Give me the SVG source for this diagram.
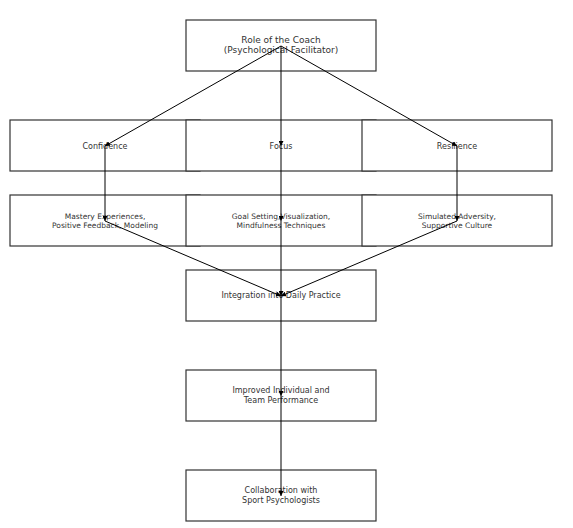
<svg xmlns="http://www.w3.org/2000/svg" width="573" height="528" viewBox="0 0 573 528">
<style>
.box{fill:#fff;stroke:#333;stroke-width:1.2}
text{font-family:"DejaVu Sans",sans-serif;fill:#333;text-anchor:middle}
.t1{font-size:9px}
.t2{font-size:8px}
.t3{font-size:7.5px}
.edge{stroke:#000;stroke-width:1;fill:none;marker-end:url(#ah)}
</style>
<defs>
<marker id="ah" viewBox="0 0 10 10" refX="10" refY="5" markerWidth="5" markerHeight="5" orient="auto"><path d="M0,0L10,5L0,10z" fill="#000"/></marker>
</defs>
<rect width="573" height="528" fill="#fff"/>
<g id="coach"><rect class="box" x="186" y="20" width="190" height="51"/><text class="t1" x="281" y="43">Role of the Coach</text><text class="t1" x="281" y="53">(Psychological Facilitator)</text></g>
<g id="confidence"><rect class="box" x="10" y="120" width="190" height="51"/><text class="t2" x="105" y="149">Confidence</text></g>
<g id="focus"><rect class="box" x="186" y="120" width="190" height="51"/><text class="t2" x="281" y="149">Focus</text></g>
<g id="resilience"><rect class="box" x="362" y="120" width="190" height="51"/><text class="t2" x="457" y="149">Resilience</text></g>
<g id="mastery"><rect class="box" x="10" y="195" width="190" height="51"/><text class="t3" x="105" y="219">Mastery Experiences,</text><text class="t3" x="105" y="227.5">Positive Feedback, Modeling</text></g>
<g id="goal"><rect class="box" x="186" y="195" width="190" height="51"/><text class="t3" x="281" y="219">Goal Setting,Visualization,</text><text class="t3" x="281" y="227.5">Mindfulness Techniques</text></g>
<g id="simulated"><rect class="box" x="362" y="195" width="190" height="51"/><text class="t3" x="457" y="219">Simulated Adversity,</text><text class="t3" x="457" y="227.5">Supportive Culture</text></g>
<g id="integration"><rect class="box" x="186" y="270" width="190" height="51"/><text class="t2" x="281" y="298">Integration into Daily Practice</text></g>
<g id="improved"><rect class="box" x="186" y="370" width="190" height="51"/><text class="t2" x="281" y="393">Improved Individual and</text><text class="t2" x="281" y="403">Team Performance</text></g>
<g id="collab"><rect class="box" x="186" y="470" width="190" height="51"/><text class="t2" x="281" y="493">Collaboration with</text><text class="t2" x="281" y="503">Sport Psychologists</text></g>
<g id="connectors">
<line class="edge" x1="281" y1="46" x2="105" y2="146"/>
<line class="edge" x1="281" y1="46" x2="281" y2="146"/>
<line class="edge" x1="281" y1="46" x2="457" y2="146"/>
<line class="edge" x1="105" y1="146" x2="105" y2="221"/>
<line class="edge" x1="281" y1="146" x2="281" y2="221"/>
<line class="edge" x1="457" y1="146" x2="457" y2="221"/>
<line class="edge" x1="105" y1="221" x2="281" y2="296"/>
<line class="edge" x1="281" y1="221" x2="281" y2="296"/>
<line class="edge" x1="457" y1="221" x2="281" y2="296"/>
<line class="edge" x1="281" y1="296" x2="281" y2="396"/>
<line class="edge" x1="281" y1="396" x2="281" y2="496"/>
</g>
</svg>
